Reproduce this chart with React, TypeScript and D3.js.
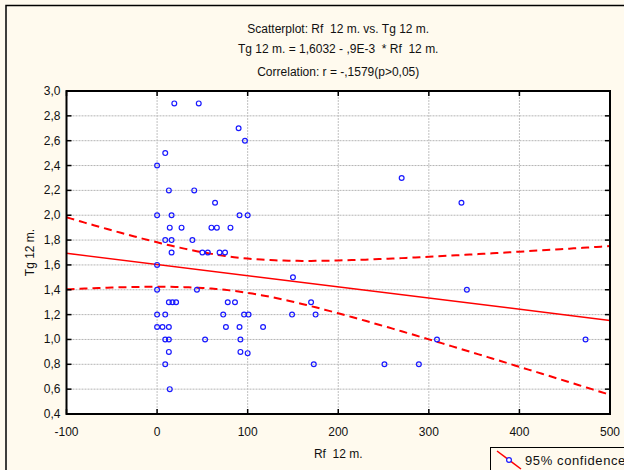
import React from 'react';
import * as d3 from 'd3';

const rfValues = [19, 46, 90, 97, 9, 0, 270, 13, 41, 64, 336, 0, 16, 91, 100, 14, 27, 60, 66, 81, 9, 16, 39, 16, 50, 56, 69, 75, 0, 150, 0, 44, 342, 13, 17, 21, 78, 86, 170, 0, 9, 73, 96, 101, 149, 175, 0, 6, 13, 76, 91, 117, 9, 13, 53, 92, 309, 473, 13, 92, 100, 9, 173, 251, 289, 14];
const tgValues = [2.9, 2.9, 2.7, 2.6, 2.5, 2.4, 2.3, 2.2, 2.2, 2.1, 2.1, 2.0, 2.0, 2.0, 2.0, 1.9, 1.9, 1.9, 1.9, 1.9, 1.8, 1.8, 1.8, 1.7, 1.7, 1.7, 1.7, 1.7, 1.6, 1.5, 1.4, 1.4, 1.4, 1.3, 1.3, 1.3, 1.3, 1.3, 1.3, 1.2, 1.2, 1.2, 1.2, 1.2, 1.2, 1.2, 1.1, 1.1, 1.1, 1.1, 1.1, 1.1, 1.0, 1.0, 1.0, 1.0, 1.0, 1.0, 0.9, 0.9, 0.89, 0.8, 0.8, 0.8, 0.8, 0.6];

const xTicks = [-100, 0, 100, 200, 300, 400, 500];
const yTicks = [0.4, 0.6, 0.8, 1.0, 1.2, 1.4, 1.6, 1.8, 2.0, 2.2, 2.4, 2.6, 2.8, 3.0];
const titleLines = [
  'Scatterplot: Rf  12 m. vs. Tg 12 m.',
  'Tg 12 m. = 1,6032 - ,9E-3  * Rf  12 m.',
  'Correlation: r = -,1579(p>0,05)',
];
const xLabel = 'Rf  12 m.';
const yLabel = 'Tg 12 m.';
const legendLabel = '95% confidence';
const intercept = 1.6032;
const slope = -0.0009;
const tCrit = 1.997;

const FONT = '"Liberation Sans", Arial, sans-serif';

export default function App() {
  const W = 624, H = 470;
  const L = 66.5, R = 610, T = 91, B = 414;
  const x = d3.scaleLinear().domain([-100, 500]).range([L, R]);
  const y = d3.scaleLinear().domain([0.4, 3.0]).range([B, T]);

  const n = rfValues.length;
  const xbar = d3.mean(rfValues) as number;
  const sxx = d3.sum(rfValues, (v) => (v - xbar) * (v - xbar));
  const sse = d3.sum(rfValues, (v, i) => {
    const r = tgValues[i] - (intercept + slope * v);
    return r * r;
  });
  const s = Math.sqrt(sse / (n - 2));
  const xs = d3.range(-100, 501, 5);
  const half = (v: number) => tCrit * s * Math.sqrt(1 / n + ((v - xbar) * (v - xbar)) / sxx);
  const line = d3.line<[number, number]>().x((d) => x(d[0])).y((d) => y(d[1]));
  const fitPath = line([[-100, intercept + slope * -100], [500, intercept + slope * 500]]) as string;
  const upperPath = line(xs.map((v) => [v, intercept + slope * v + half(v)] as [number, number])) as string;
  const lowerPath = line(xs.map((v) => [v, intercept + slope * v - half(v)] as [number, number])) as string;

  const fmtY = (v: number) => v.toFixed(1).replace('.', ',');

  return (
    <svg width={W} height={H} style={{ position: 'absolute', left: 0, top: 0, display: 'block' }} fontFamily={FONT}>
      <rect x={0} y={0} width={W} height={H} fill="#fffaee" />
      <path d={`M6,${H + 5}V5.5H${W + 5}`} fill="none" stroke="#000" strokeWidth={1.5} />
      {titleLines.map((t, i) => (
        <text key={i} x={(L + R) / 2} y={[33, 53, 76][i]} textAnchor="middle" fontSize={12} fill="#111" style={{ whiteSpace: 'pre' }}>{t}</text>
      ))}
      <defs>
        <clipPath id="plotclip">
          <rect x={L} y={T} width={R - L} height={B - T} />
        </clipPath>
      </defs>
      <rect x={L} y={T} width={R - L} height={B - T} fill="#fff" />
      {yTicks.slice(1, -1).map((v) => (
        <line key={'gy' + v} x1={L} x2={R} y1={y(v)} y2={y(v)} stroke="#b4b4b4" strokeWidth={1} strokeDasharray="2,1" />
      ))}
      {xTicks.slice(1, -1).map((v) => (
        <line key={'gx' + v} x1={x(v)} x2={x(v)} y1={T} y2={B} stroke="#c0c0c0" strokeWidth={1} strokeDasharray="2,1" />
      ))}
      <g clipPath="url(#plotclip)">
        <path d={upperPath} fill="none" stroke="#ff0000" strokeWidth={2} strokeDasharray="8,5" />
        <path d={lowerPath} fill="none" stroke="#ff0000" strokeWidth={2} strokeDasharray="8,5" />
        <path d={fitPath} fill="none" stroke="#ff0000" strokeWidth={1.5} />
      </g>
      {rfValues.map((v, i) => (
        <circle key={'p' + i} cx={x(v)} cy={y(tgValues[i])} r={2.4} fill="none" stroke="#1a1aff" strokeWidth={1.2} />
      ))}
      <rect x={L} y={T} width={R - L} height={B - T} fill="none" stroke="#000" strokeWidth={2} />
      {yTicks.map((v) => (
        <g key={'ty' + v}>
          <line x1={L} x2={L + 5} y1={y(v)} y2={y(v)} stroke="#000" strokeWidth={1.5} />
          <line x1={R} x2={R - 5} y1={y(v)} y2={y(v)} stroke="#000" strokeWidth={1.5} />
          <text x={L - 6} y={y(v) + 4} textAnchor="end" fontSize={12} fill="#111">{fmtY(v)}</text>
        </g>
      ))}
      {xTicks.map((v) => (
        <g key={'tx' + v}>
          <line x1={x(v)} x2={x(v)} y1={B} y2={B - 5} stroke="#000" strokeWidth={1.5} />
          <line x1={x(v)} x2={x(v)} y1={T} y2={T + 5} stroke="#000" strokeWidth={1.5} />
          <text x={x(v)} y={B + 22} textAnchor="middle" fontSize={12} fill="#111">{v}</text>
        </g>
      ))}
      <text x={(L + R) / 2} y={458} textAnchor="middle" fontSize={12} fill="#111" style={{ whiteSpace: 'pre' }}>{xLabel}</text>
      <text transform={`translate(34,${(T + B) / 2}) rotate(-90)`} textAnchor="middle" fontSize={12} fill="#111">{yLabel}</text>
      <g>
        <rect x={490.5} y={447.5} width={150} height={40} fill="#fffaee" stroke="#000" strokeWidth={1} />
        <line x1={497} y1={451} x2={521} y2={469} stroke="#ff0000" strokeWidth={1.5} />
        <circle cx={509} cy={460} r={2.4} fill="#fff" stroke="#1a1aff" strokeWidth={1.2} />
        <text x={525} y={465} fontSize={13} letterSpacing={0.6} fill="#111">{legendLabel}</text>
      </g>
    </svg>
  );
}
